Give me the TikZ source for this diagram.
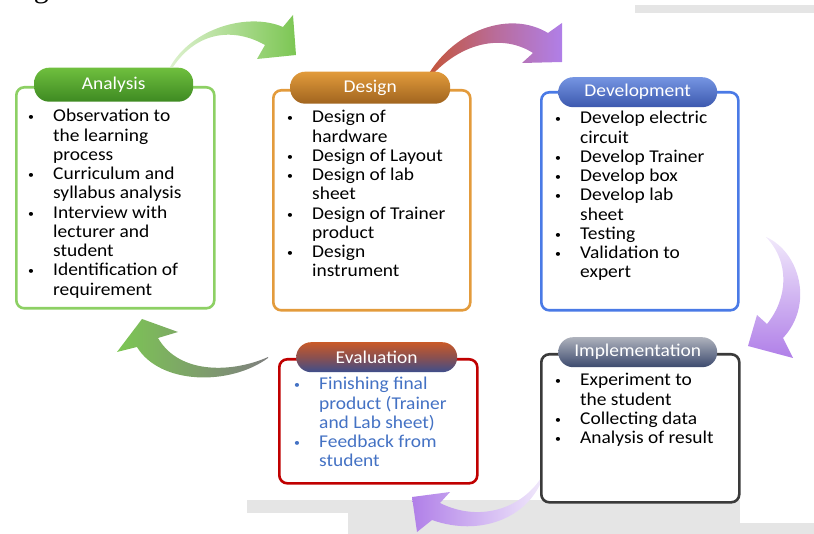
\documentclass[tikz,border=0pt]{standalone}
\usepackage{fontspec}
\setmainfont{Carlito}[FakeStretch=1.08]
\newfontfamily\capfont{Liberation Serif}
\newcommand\bul{\makebox[0pt]{\raisebox{1.2pt}{\fontsize{11}{11}\selectfont\textbullet}}}

\definecolor{anaLine}{HTML}{8DD064}
\definecolor{desLine}{HTML}{E39B3C}
\definecolor{devLine}{HTML}{4A7AE6}
\definecolor{impLine}{HTML}{3A3A3A}
\definecolor{evaLine}{HTML}{C00000}
\definecolor{evaText}{HTML}{4472C4}
\definecolor{barGray}{HTML}{E5E5E5}
\definecolor{arrGreen}{HTML}{7CC653}
\definecolor{arrLightGreen}{HTML}{DDF1CE}
\definecolor{arrRed}{HTML}{C4553A}
\definecolor{arrPurple}{HTML}{B07FE8}
\definecolor{arrLightPurple}{HTML}{F1E9FB}
\definecolor{arrGray}{HTML}{7F7F7F}
\definecolor{anaTop}{HTML}{6FBF3E}
\definecolor{anaBot}{HTML}{3E8A22}
\definecolor{desTop}{HTML}{E29B3B}
\definecolor{desBot}{HTML}{A0641F}
\definecolor{devTop}{HTML}{7595E2}
\definecolor{devBot}{HTML}{3C58AE}
\definecolor{impTop}{HTML}{AEB2BC}
\definecolor{impBot}{HTML}{3C4A6E}
\definecolor{evaTop}{HTML}{C95A28}
\definecolor{evaMid}{HTML}{8A5050}
\definecolor{evaBot}{HTML}{3E4E8C}

\begin{document}
\begin{tikzpicture}[x=1pt,y=-1pt,
  panel/.style={draw, line width=2.6pt, rounded corners=8pt, fill=white,
    inner sep=0pt, anchor=north west},
  pill/.style={rounded corners=15pt, inner sep=0pt, anchor=north west,
    text=white, font=\fontsize{18}{18}\selectfont},
  items/.style={anchor=base west, inner sep=0pt,
    font=\fontsize{18}{19.25}\selectfont},
]
\useasboundingbox (0,0) rectangle (814,534);

% grey page strips
\fill[barGray] (635,5) rectangle (814,13);
\fill[barGray] (247,500) rectangle (348,513);
\fill[barGray] (348,500) rectangle (740,534);
\fill[barGray] (740,523) rectangle (814,534);

% caption fragment at the top edge
\node[anchor=base, inner sep=0pt, font=\capfont\fontsize{30}{30}\selectfont] (cap) at (41.5,-2.5) {g};

% curved block arrows between the phases
\shade[left color=arrLightGreen, right color=arrGreen]
  (170,67) .. controls (192,28) and (248,12) .. (283,27) -- (293,15) -- (296,55)
  -- (257,59) -- (265,45) .. controls (235,28) and (198,30) .. (173,67) -- cycle;
\shade[left color=arrRed, right color=arrPurple, middle color=arrPurple!55!arrRed]
  (428,75) .. controls (455,30) and (510,10) .. (548,33) -- (562,23) -- (562,62)
  -- (522,63) -- (533,53) .. controls (505,35) and (465,40) .. (432,75) -- cycle;
\shade[top color=arrLightPurple, bottom color=arrPurple]
  (766,237) .. controls (800,252) and (814,305) .. (783,338) -- (793,358) -- (748,346)
  -- (757,315) -- (767,324) .. controls (788,298) and (790,262) .. (766,237) -- cycle;
\shade[left color=arrPurple, right color=arrLightPurple]
  (541,478) .. controls (520,510) and (478,522) .. (440,503) -- (450,492) -- (412,497)
  -- (417,532) -- (432,520) .. controls (480,537) and (527,518) .. (542,480) -- cycle;
\shade[left color=arrGreen, right color=arrGray]
  (268,357) .. controls (235,372) and (180,376) .. (158,338) -- (178,332) -- (142,319)
  -- (117,352) -- (137,347) .. controls (160,385) and (230,386) .. (268,358) -- cycle;

% phase panels
\node[panel, draw=anaLine, minimum width=198pt, minimum height=221pt] (anaBox) at (15,86) {};
\node[panel, draw=desLine, minimum width=197pt, minimum height=220pt] (desBox) at (272,89) {};
\node[panel, draw=devLine, minimum width=197pt, minimum height=218pt] (devBox) at (540,91) {};
\node[panel, draw=impLine, minimum width=198pt, minimum height=148pt] (impBox) at (540,353) {};
\node[panel, draw=evaLine, minimum width=198pt, minimum height=124pt] (evaBox) at (278,358) {};

% phase titles
\node[pill, top color=anaTop, bottom color=anaBot, minimum width=159pt, minimum height=34pt]
  (anaHead) at (34,67.5) {Analysis};
\node[pill, top color=desTop, bottom color=desBot, minimum width=160pt, minimum height=32pt]
  (desHead) at (290,71.5) {Design};
\node[pill, top color=devTop, bottom color=devBot, minimum width=159pt, minimum height=30pt]
  (devHead) at (558,77) {Development};
\node[pill, top color=impTop, bottom color=impBot, minimum width=159pt, minimum height=30pt]
  (impHead) at (558,337) {Implementation};
\node[pill, top color=evaTop, bottom color=evaBot, middle color=evaMid,
  minimum width=161pt, minimum height=30pt]
  (evaHead) at (296,342) {Evaluation};

% phase activities
\node[items] (anaList) at (31,122) {\begin{tabular}[t]{@{}c@{\hspace{22pt}}l@{}}
  \bul & Observation to\\ & the learning\\ & process\\
  \bul & Curriculum and\\ & syllabus analysis\\
  \bul & Interview with\\ & lecturer and\\ & student\\
  \bul & Identification of\\ & requirement
\end{tabular}};
\node[items] (desList) at (290,123) {\begin{tabular}[t]{@{}c@{\hspace{22pt}}l@{}}
  \bul & Design of\\ & hardware\\
  \bul & Design of Layout\\
  \bul & Design of lab\\ & sheet\\
  \bul & Design of Trainer\\ & product\\
  \bul & Design\\ & instrument
\end{tabular}};
\node[items] (devList) at (558,124) {\begin{tabular}[t]{@{}c@{\hspace{22pt}}l@{}}
  \bul & Develop electric\\ & circuit\\
  \bul & Develop Trainer\\
  \bul & Develop box\\
  \bul & Develop lab\\ & sheet\\
  \bul & Testing\\
  \bul & Validation to\\ & expert
\end{tabular}};
\node[items] (impList) at (558,386) {\begin{tabular}[t]{@{}c@{\hspace{22pt}}l@{}}
  \bul & Experiment to\\ & the student\\
  \bul & Collecting data\\
  \bul & Analysis of result
\end{tabular}};
\node[items, text=evaText] (evaList) at (297,390) {\begin{tabular}[t]{@{}c@{\hspace{22pt}}l@{}}
  \bul & Finishing final\\ & product (Trainer\\ & and Lab sheet)\\
  \bul & Feedback from\\ & student
\end{tabular}};
\end{tikzpicture}
\end{document}
